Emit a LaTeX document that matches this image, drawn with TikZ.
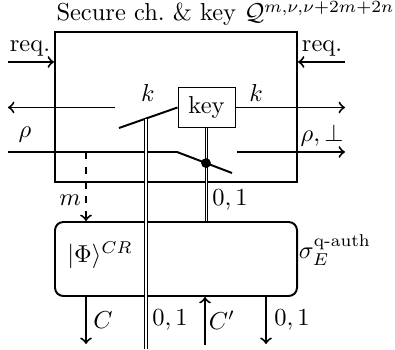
\documentclass[tikz,border=0pt]{standalone}
\usepackage{amsmath,amssymb}
\usepackage{tikz}

\begin{document}
\begin{tikzpicture}[x=1.435mm, y=1.435mm, >=to, line width=0.8pt,
    dbl/.style={line width=0.4pt, double, double distance=0.8pt}]
    \useasboundingbox (0,0) rectangle (39.5,34.9);

    % Channel box and resource box
    \node[draw, minimum width=34.73mm, minimum height=21.53mm] (chan) at (17.6,24.2) {};
    \node[draw, rounded corners=1.2mm, minimum width=34.73mm, minimum height=10.62mm] (res) at (17.6,9.0) {};
    \node[anchor=base, inner sep=0] (title) at (22.55,32.8) {Secure ch.\ \& key $\mathcal{Q}^{m,\nu,\nu+2m+2n}$};
    \node[draw, line width=0.4pt, minimum width=8.18mm, minimum height=5.88mm, inner sep=0] (key) at (20.65,24.15) {key};

    % Free ends
    \coordinate (reqL) at (0.8,28.7);
    \coordinate (reqR) at (34.5,28.7);
    \coordinate (kL) at (0.8,24.15);
    \coordinate (kLs) at (11.5,24.15);
    \coordinate (kR) at (34.5,24.15);
    \coordinate (swA) at (11.9,22.1);
    \coordinate (rhoL) at (0.8,19.7);
    \coordinate (rhoA) at (17.7,19.7);
    \coordinate (rhoB) at (23.2,17.6);
    \coordinate (rhoC) at (23.7,19.7);
    \coordinate (rhoR) at (34.5,19.7);
    \coordinate (mA) at (8.6,19.7);
    \coordinate (Cout) at (8.6,0.5);
    \coordinate (Cin) at (20.5,0.4);
    \coordinate (bitOut) at (26.6,0.5);

    % Requests
    \draw[->] (reqL) -- (reqL -| chan.west);
    \draw[->] (reqR) -- (reqR -| chan.east);
    \node (reqLl) at (3.0,30.1) {req.};
    \node (reqRl) at (32.2,30.1) {req.};

    % Key outputs
    \draw[->] (kLs) -- (kL);
    \draw[->] (key) -- (kR);
    \node (kLl) at (14.8,25.6) {$k$};
    \node (kRl) at (25.6,25.6) {$k$};
    \draw (swA) -- (key.west);
    \path (swA) -- (key.west) coordinate[pos=0.458] (swB);

    % Message line with switch
    \draw (rhoL) -- (rhoA) -- (rhoB);
    \path (rhoA) -- (rhoB) coordinate[pos=0.527] (sw);
    \draw[->] (rhoC) -- (rhoR);
    \node (rhoLl) at (2.5,21.4) {$\rho$};
    \node (rhoRl) at (32.2,21.4) {$\rho,\perp$};
    \draw[->, dashed] (mA) -- (mA |- res.north);
    \node (ml) at (7.0,14.9) {$m$};

    % Classical wires
    \draw[dbl] (key.south) -- (key.south |- res.north);
    \fill (sw) circle (2pt);
    \node (bitl) at (23.0,14.9) {$0,1$};
    \draw[dbl] (swB) -- (swB |- 0,0);

    % Resource labels and outputs
    \node (phil) at (10.0,9.4) {$|\Phi\rangle^{CR}$};
    \node (sigl) at (33.5,9.9) {$\sigma_E^{\text{q-auth}}$};
    \draw[->] (Cout |- res.south) -- (Cout);
    \node (Cl) at (10.3,2.9) {$C$};
    \node (bitLl) at (17.0,2.9) {$0,1$};
    \draw[->] (Cin) -- (Cin |- res.south);
    \node (Cpl) at (22.2,2.9) {$C'$};
    \draw[->] (bitOut |- res.south) -- (bitOut);
    \node (bitRl) at (29.2,2.9) {$0,1$};
\end{tikzpicture}
\end{document}
